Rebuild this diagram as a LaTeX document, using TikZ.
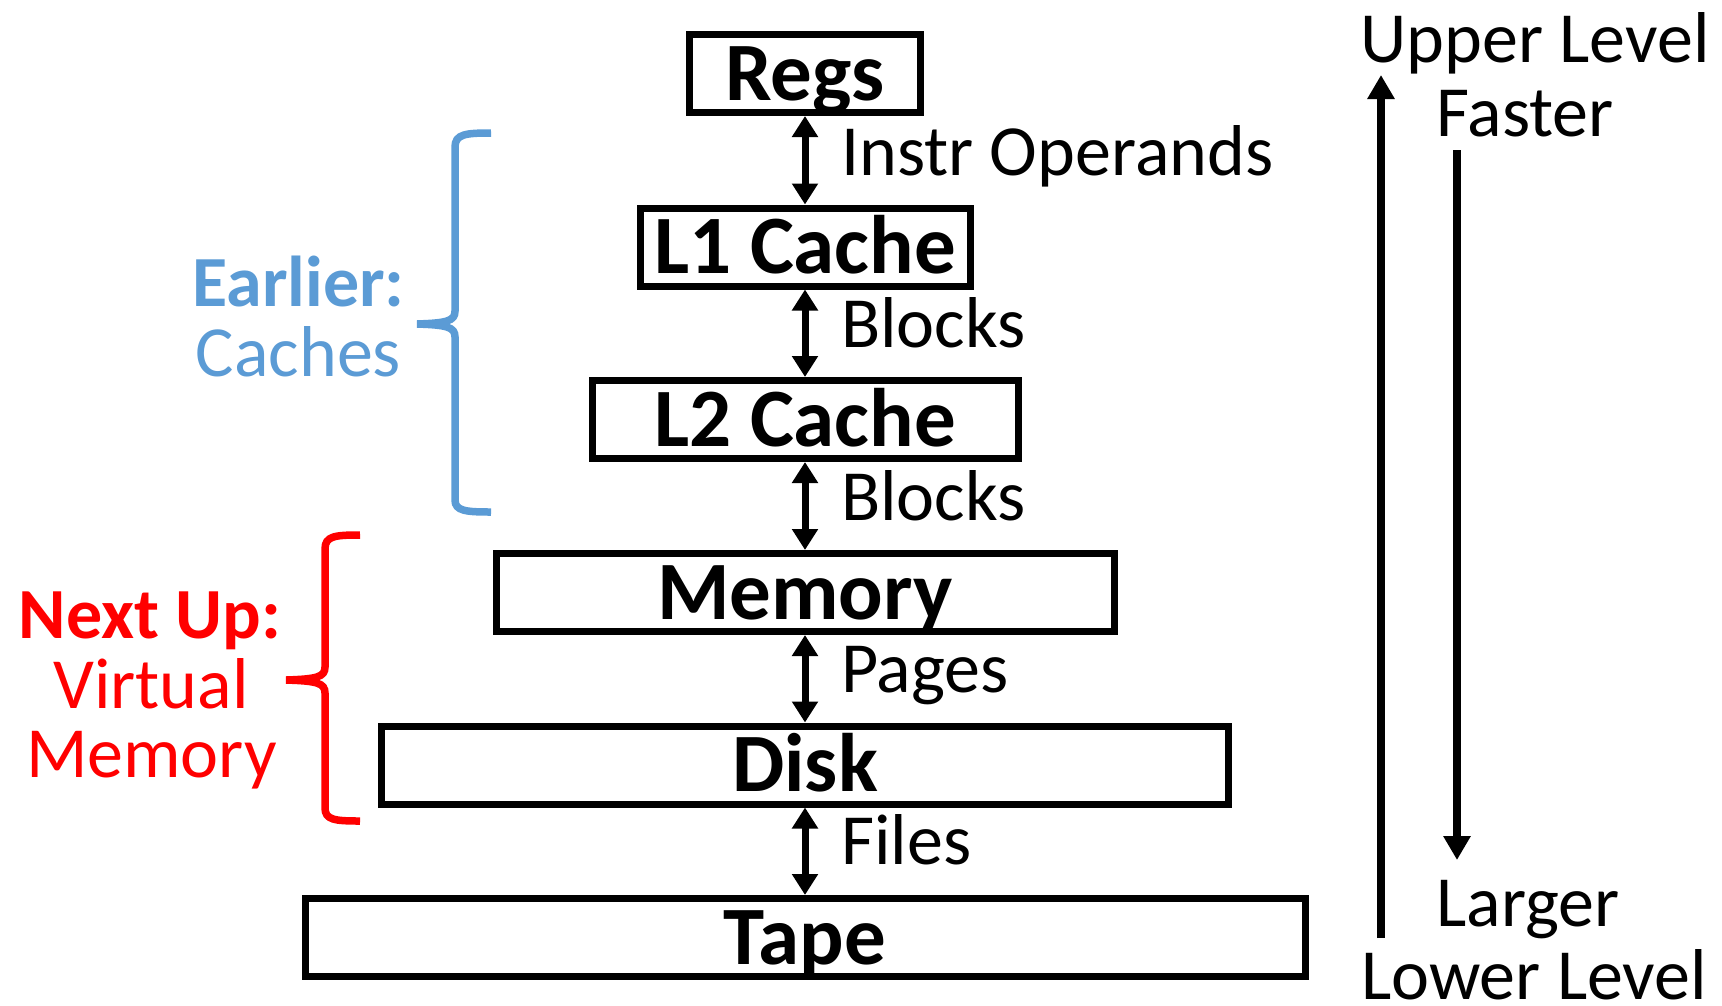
\documentclass[tikz,border=0pt]{standalone}
\usepackage{fontspec}
\setmainfont{Carlito}
\usetikzlibrary{arrows.meta}
\definecolor{earlyblue}{RGB}{91,155,213}
\definecolor{nextred}{RGB}{255,0,0}
\tikzset{
  lvl/.style={draw, line width=7pt, inner sep=0pt, minimum height=78pt,
    text height=53pt, text depth=0pt, font=\fontsize{83}{90}\selectfont\bfseries},
  xfer/.style={{Triangle[width=25pt,length=21pt]}-{Triangle[width=25pt,length=21pt]}, line width=7pt},
  tag/.style={anchor=base west, inner sep=0pt, font=\fontsize{72}{80}\selectfont},
  hint/.style={anchor=base, inner sep=0pt, font=\fontsize{72}{80}\selectfont},
  trend/.style={-{Triangle[width=26pt,length=24pt]}, line width=8pt},
  curlybrace/.style={line width=7.5pt}
}
\begin{document}
\begin{tikzpicture}[x=1pt, y=-1pt]
  \useasboundingbox (0,0) rectangle (1722,1005);

  \node[lvl, minimum width=231pt] (regs) at (805,73.5) {Regs};
  \node[lvl, minimum width=330pt] (l1) at (805,247) {L1 Cache};
  \node[lvl, minimum width=426pt] (l2) at (805,419.5) {L2 Cache};
  \node[lvl, minimum width=618pt] (mem) at (805,592.5) {Memory};
  \node[lvl, minimum width=847pt] (disk) at (805,765) {Disk};
  \node[lvl, minimum width=1000pt] (tape) at (805,937.5) {Tape};

  \begin{scope}[xfer]
    \draw (regs) -- (l1);
    \draw (l1) -- (l2);
    \draw (l2) -- (mem);
    \draw (mem) -- (disk);
    \draw (disk) -- (tape);
  \end{scope}

  \node[tag] (ops) at (841,175) {Instr Operands};
  \node[tag] (blk1) at (841,347) {Blocks};
  \node[tag] (blk2) at (841,520) {Blocks};
  \node[tag] (pgs) at (841,692) {Pages};
  \node[tag] (fls) at (841,864) {Files};

  % cache levels
  \node[hint, text=earlyblue, font=\fontsize{72}{80}\selectfont\bfseries] (earlier) at (298.5,306) {Earlier:};
  \node[hint, text=earlyblue] (caches) at (298.5,376.5) {Caches};
  \draw[curlybrace, earlyblue] (491,133) .. controls (466,133) and (455,134) .. (455,147)
    -- (455,311) .. controls (455,321) and (447,323) .. (417,324)
    .. controls (447,325) and (455,327) .. (455,337)
    -- (455,500) .. controls (455,511) and (466,512) .. (491,512);

  % virtual memory levels
  \node[hint, text=nextred, font=\fontsize{72}{80}\selectfont\bfseries] (nextup) at (150,638) {Next Up:};
  \node[hint, text=nextred] (virt) at (151,708) {Virtual};
  \node[hint, text=nextred] (vmem) at (151.5,777.5) {Memory};
  \draw[curlybrace, nextred] (360,535) .. controls (335,535) and (325,536) .. (325,549)
    -- (325,667) .. controls (325,677) and (317,679) .. (286,680)
    .. controls (317,681) and (325,683) .. (325,693)
    -- (325,808) .. controls (325,820) and (335,821) .. (360,821);

  \node[hint] (upper) at (1535,62) {Upper Level};
  \node[hint] (faster) at (1525,136) {Faster};
  \node[hint] (larger) at (1528,926) {Larger};
  \node[hint] (lower) at (1534,999) {Lower Level};

  \coordinate (upfoot) at (1381,938);
  \coordinate (uptip) at (1381,75);
  \coordinate (downtop) at (1457,150);
  \coordinate (downtip) at (1457,860);
  \draw[trend] (upfoot) -- (uptip);
  \draw[trend] (downtop) -- (downtip);
\end{tikzpicture}
\end{document}
